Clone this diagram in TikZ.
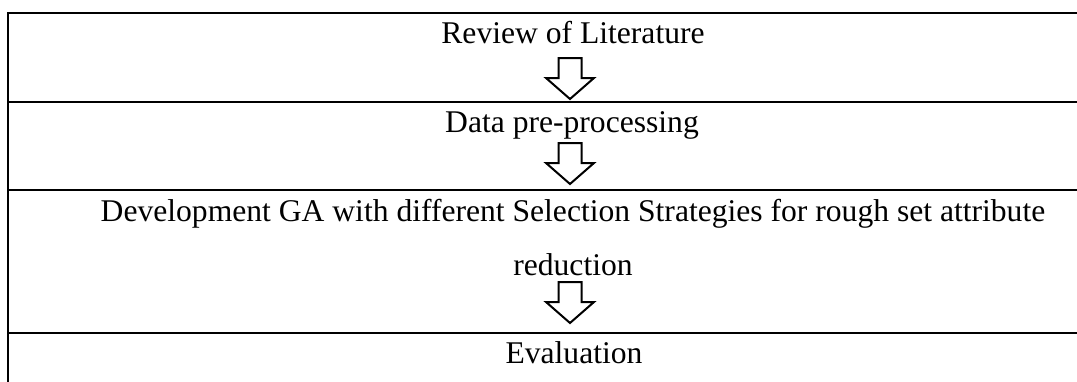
\documentclass[tikz,border=0pt]{standalone}
\usepackage{fontspec}
\setmainfont{Liberation Serif}
\begin{document}
\begin{tikzpicture}[x=1pt,y=-1pt,
  rule/.style={line width=2pt},
  label/.style={anchor=base,inner sep=0pt,font=\fontsize{31.6}{36}\selectfont},
  downarrow/.pic={\draw[line width=2pt,line join=miter] (-11.5,0) -- (11.5,0) -- (11.5,20) -- (24,20) -- (0,41) -- (-24,20) -- (-11.5,20) -- cycle;}]
\useasboundingbox (0,0) rectangle (1077,381);
\clip (0,0) rectangle (1077,381);
% table rules
\coordinate (tl) at (8,13);
\coordinate (bl) at (8,395);
\draw[rule] (tl) -- (bl);
\draw[rule] (7,13) -- (1090,13);
\draw[rule] (7,102) -- (1090,102);
\draw[rule] (7,190) -- (1090,190);
\draw[rule] (7,333) -- (1090,333);
% texts
\node[label] (rev) at (573,43) {Review of Literature};
\node[label] (data) at (572,132) {Data pre-processing};
\node[label] (dev) at (573,221) {Development GA with different Selection Strategies for rough set attribute};
\node[label] (red) at (573,275) {reduction};
\node[label] (eval) at (574,363) {Evaluation};
% arrows
\pic at (570,58) {downarrow};
\pic at (570,143) {downarrow};
\pic at (570,282) {downarrow};
\end{tikzpicture}
\end{document}
